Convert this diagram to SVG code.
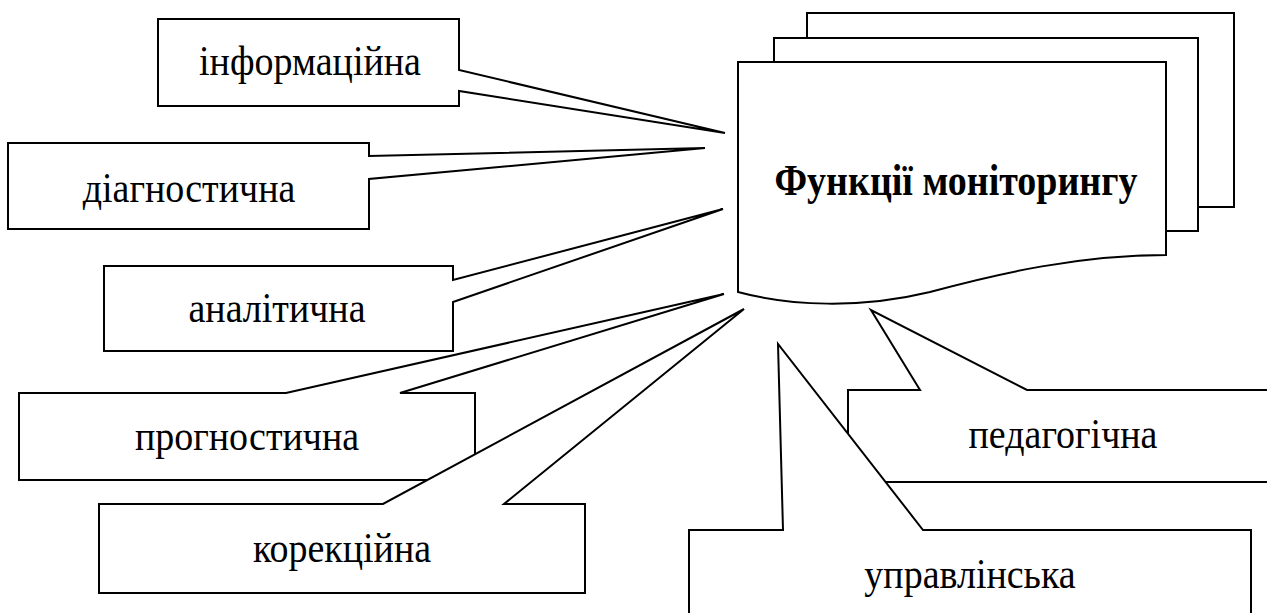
<svg xmlns="http://www.w3.org/2000/svg" width="1267" height="613" viewBox="0 0 1267 613">
  <style>
    .shape { fill: #ffffff; stroke: #000000; stroke-width: 2; stroke-linejoin: miter; }
    .lbl { font-family: 'Liberation Serif', 'Times New Roman', serif; font-size: 38px; fill: #000000; text-anchor: middle; }
    .title { font-family: 'Liberation Serif', 'Times New Roman', serif; font-size: 38px; font-weight: bold; fill: #000000; text-anchor: middle; }
  </style>
  <rect width="1267" height="613" fill="#ffffff"/>

  <g id="node-main">
    <rect class="shape" x="807" y="13" width="427" height="194"/>
    <rect class="shape" x="774" y="38" width="424" height="193"/>
    <path class="shape" d="M738,62 H1166 V255 C1080,255 1000,273 930,292 C860,309 790,306 738,292 Z"/>
    <text class="title" transform="translate(956,195) scale(1,1.15)" x="0" y="0">Функції моніторингу</text>
  </g>

  <g id="node-informatsiina">
    <path class="shape" d="M158,19 H459 V70 L725,133 L459,91 V106 H158 Z"/>
    <text class="lbl" transform="translate(310,75) scale(1,1.12)" x="0" y="0">інформаційна</text>
  </g>

  <g id="node-diahnostychna">
    <path class="shape" d="M8,143 H369 V156 L705,148 L369,179 V229 H8 Z"/>
    <text class="lbl" transform="translate(189,202) scale(1,1.12)" x="0" y="0">діагностична</text>
  </g>

  <g id="node-analitychna">
    <path class="shape" d="M104,266 H453 V280 L723,209 L453,302 V351 H104 Z"/>
    <text class="lbl" transform="translate(277,322) scale(1,1.12)" x="0" y="0">аналітична</text>
  </g>

  <g id="node-prohnostychna">
    <path class="shape" d="M19,393 H286 L724,294 L400,393 H475 V480 H19 Z"/>
    <text class="lbl" transform="translate(247,450) scale(1,1.12)" x="0" y="0">прогностична</text>
  </g>

  <g id="node-korektsiina">
    <path class="shape" d="M99,504 H383 L744,309 L504,504 H585 V593 H99 Z"/>
    <text class="lbl" transform="translate(342,562) scale(1,1.12)" x="0" y="0">корекційна</text>
  </g>

  <g id="node-pedahohichna">
    <path class="shape" d="M848,390 H920 L871,310 L1027,390 H1280 V482 H848 Z"/>
    <text class="lbl" transform="translate(1063,448) scale(1,1.12)" x="0" y="0">педагогічна</text>
  </g>

  <g id="node-upravlinska">
    <path class="shape" d="M689,530 H783 L778,344 L923,530 H1251 V630 H689 Z"/>
    <text class="lbl" transform="translate(970,588) scale(1,1.12)" x="0" y="0">управлінська</text>
  </g>

  <g id="connectors"/>
</svg>
